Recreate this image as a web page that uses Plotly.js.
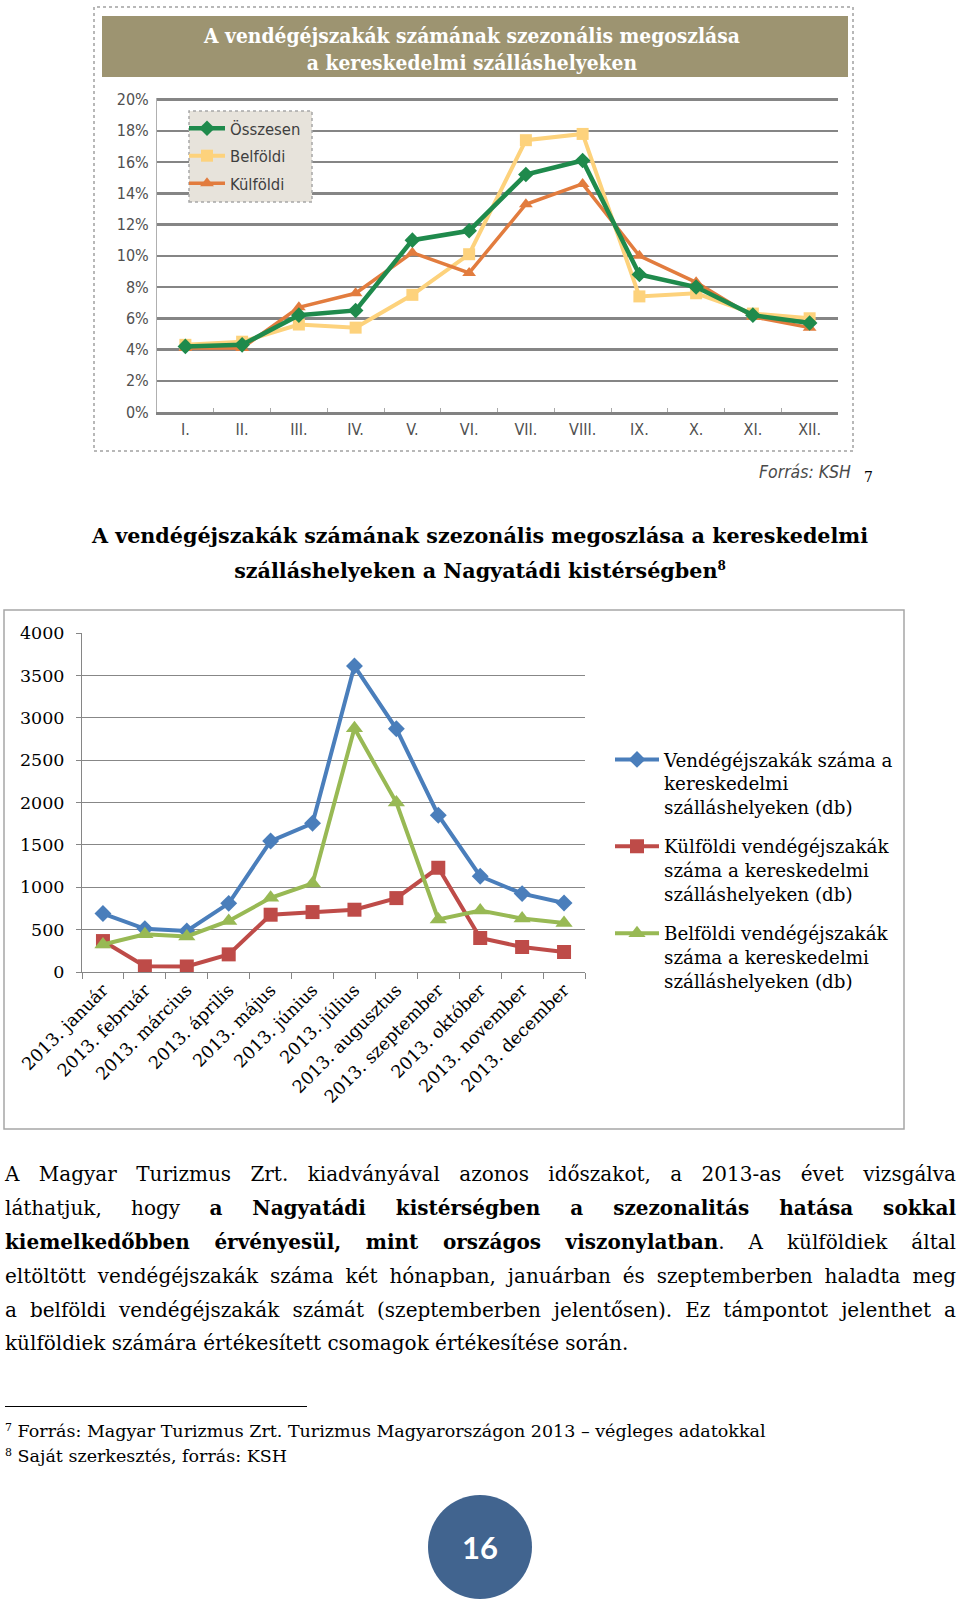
<!DOCTYPE html>
<html>
<head>
<meta charset="utf-8">
<script src="https://cdn.plot.ly/plotly-3.0.1.min.js"></script>
<style>
  html, body { margin:0; padding:0; background:#fff; }
  #page { position:relative; width:960px; height:1607px; overflow:hidden; background:#fff; }
  #top { position:absolute; left:0; top:0; width:960px; height:490px; }
  #bottom { position:absolute; left:0; top:600px; width:960px; height:540px; }
  .serif { font-family:"DejaVu Serif", "Liberation Serif", serif; color:#000; }
  #title2 { position:absolute; left:0; top:519px; width:960px; text-align:center;
            font-size:20.7px; font-weight:bold; line-height:35px; }
  #title2 sup { font-size:12px; vertical-align:8px; line-height:0; }
  .pl { position:absolute; left:5px; width:951px; font-size:20px; line-height:34px; height:34px;
        white-space:nowrap; text-align:justify; text-align-last:justify; }
  .pl.last { text-align:left; text-align-last:left; }
  #rule { position:absolute; left:5px; top:1406px; width:302px; height:0; border-top:1.5px solid #000; }
  .fn { position:absolute; left:5px; font-size:17.5px; line-height:24px; white-space:nowrap; }
  .fn sup { font-size:11px; vertical-align:6px; line-height:0; }
  #pnum { position:absolute; left:428px; top:1495px; width:104px; height:104px; border-radius:52px;
          background:#41648f; color:#fff; font-family:Lato, "Open Sans", sans-serif; font-weight:bold;
          font-size:31px; line-height:104px; text-align:center; }
</style>
</head>
<body>
<div id="page">
  <div id="top"></div>
  <div id="title2" class="serif">A vendégéjszakák számának szezonális megoszlása a kereskedelmi<br>szálláshelyeken a Nagyatádi kistérségben<sup>8</sup></div>
  <div id="bottom"></div>
  <div class="pl serif" style="top:1157px">A Magyar Turizmus Zrt. kiadványával azonos időszakot, a 2013-as évet vizsgálva</div>
  <div class="pl serif" style="top:1191px">láthatjuk, hogy <b>a Nagyatádi kistérségben a szezonalitás hatása sokkal</b></div>
  <div class="pl serif" style="top:1225px"><b>kiemelkedőbben érvényesül, mint országos viszonylatban</b>. A külföldiek által</div>
  <div class="pl serif" style="top:1259px">eltöltött vendégéjszakák száma két hónapban, januárban és szeptemberben haladta meg</div>
  <div class="pl serif" style="top:1293px">a belföldi vendégéjszakák számát (szeptemberben jelentősen). Ez támpontot jelenthet a</div>
  <div class="pl serif last" style="top:1326px">külföldiek számára értékesített csomagok értékesítése során.</div>
  <div id="rule"></div>
  <div class="fn serif" style="top:1419px"><sup>7</sup> Forrás: Magyar Turizmus Zrt. Turizmus Magyarországon 2013 – végleges adatokkal</div>
  <div class="fn serif" style="top:1444px"><sup>8</sup> Saját szerkesztés, forrás: KSH</div>
  <div id="pnum">16</div>
</div>
<script>
// ---------- Top chart data (national, %) ----------
const monthsRoman = ['I.','II.','III.','IV.','V.','VI.','VII.','VIII.','IX.','X.','XI.','XII.'];
const osszesen = [4.2, 4.3, 6.2, 6.5, 11.0, 11.6, 15.2, 16.1, 8.8, 8.0, 6.2, 5.7];
const belfoldi = [4.3, 4.5, 5.6, 5.4, 7.5, 10.1, 17.4, 17.8, 7.4, 7.6, 6.3, 6.0];
const kulfoldi = [4.1, 4.1, 6.7, 7.6, 10.2, 8.9, 13.3, 14.6, 10.0, 8.3, 6.1, 5.4];
const pctTicks = [0, 2, 4, 6, 8, 10, 12, 14, 16, 18, 20];

// ---------- Bottom chart data (Nagyatád, db) ----------
const honapok = ['2013. január','2013. február','2013. március','2013. április','2013. május','2013. június',
                 '2013. július','2013. augusztus','2013. szeptember','2013. október','2013. november','2013. december'];
const vendegejszakak = [690, 510, 485, 810, 1545, 1755, 3610, 2870, 1850, 1130, 925, 815];
const kulfoldiDb = [365, 67, 65, 208, 676, 707, 735, 872, 1230, 401, 295, 236];
const belfoldiDb = [325, 445, 420, 602, 875, 1045, 2875, 2000, 620, 725, 630, 579];
const dbTicks = [0, 500, 1000, 1500, 2000, 2500, 3000, 3500, 4000];

const narrow = '"Liberation Sans Narrow", "DejaVu Sans Condensed", "Roboto Condensed", sans-serif';
const serif = '"DejaVu Serif", "Liberation Serif", serif';

// ===== TOP =====
(function(){
  const W = 960, H = 490, ml = 157, mr = 960 - 838, mt = 98, mb = 490 - 412;
  const pw = W - ml - mr, ph = H - mt - mb;
  const X = px => (px - ml) / pw;
  const Y = py => (H - mb - py) / ph;

  const traces = [
    {name:'Belföldi', x: monthsRoman, y: belfoldi, type:'scatter', mode:'lines+markers',
     line:{color:'#fdd27c', width:4}, marker:{symbol:'square', size:12, color:'#fdd27c'},
     legendgroup:'b', legendrank:2, hoverinfo:'skip'},
    {name:'Külföldi', x: monthsRoman, y: kulfoldi, type:'scatter', mode:'lines+markers',
     line:{color:'#e27c3e', width:3.5}, marker:{symbol:'triangle-up', size:12, color:'#e27c3e'},
     legendgroup:'k', legendrank:3, hoverinfo:'skip'},
    {name:'Összesen', x: monthsRoman, y: osszesen, type:'scatter', mode:'lines+markers',
     line:{color:'#1f8a4c', width:4.5}, marker:{symbol:'diamond', size:12, color:'#1f8a4c'},
     legendgroup:'o', legendrank:1, hoverinfo:'skip'}
  ];
  const layout = {
    width: W, height: H, margin:{l:ml, r:mr, t:mt, b:mb, pad:0},
    paper_bgcolor:'rgba(0,0,0,0)', plot_bgcolor:'#fff',
    showlegend:true,
    legend:{x: X(184), y: Y(111), xanchor:'left', yanchor:'top', bgcolor:'rgba(0,0,0,0)',
            font:{family:narrow, size:16.5, color:'#3f3f3f'}, itemwidth:36, tracegroupgap:3,
            traceorder:'grouped'},
    xaxis:{type:'category', range:[-0.5, 11.5], showgrid:false, zeroline:false,
           showline:true, linecolor:'#828282', linewidth:2.5,
           ticks:'inside', tickson:'boundaries', ticklen:4, tickcolor:'#aaa',
           tickfont:{family:narrow, size:16, color:'#505050'}, ticklabelstandoff:1, fixedrange:true},
    yaxis:{range:[0, 20.1], tickvals:pctTicks, ticktext:pctTicks.map(v => v + '%'),
           showgrid:true, gridcolor:'#858585', gridwidth:2.5, zeroline:false,
           showline:true, linecolor:'#b0b0b0', linewidth:1, ticks:'',
           tickfont:{family:narrow, size:16, color:'#505050'}, ticklabelstandoff:4, fixedrange:true},
    shapes:[
      {type:'rect', xref:'paper', yref:'paper', x0:X(94), x1:X(853), y0:Y(451), y1:Y(7),
       line:{color:'#b8b8b8', width:2, dash:'dot'}, fillcolor:'rgba(0,0,0,0)', layer:'below'},
      {type:'rect', xref:'paper', yref:'paper', x0:X(102), x1:X(848), y0:Y(77), y1:Y(16),
       line:{width:0}, fillcolor:'#9d9471', layer:'below'},
      {type:'rect', xref:'paper', yref:'paper', x0:X(189), x1:X(312), y0:Y(202), y1:Y(111),
       line:{color:'#a8a8a8', width:1.5, dash:'dot'}, fillcolor:'#e7e3db', layer:'above'}
    ],
    annotations:[
      {xref:'paper', yref:'paper', x:X(471), y:Y(49), xanchor:'center', yanchor:'middle', showarrow:false,
       text:'<b>A vendégéjszakák számának szezonális megoszlása<br>a kereskedelmi szálláshelyeken</b>',
       font:{family:'"DejaVu Serif Condensed", "Liberation Serif", serif', size:20.8, color:'#fff'}},
      {xref:'paper', yref:'paper', x:X(853), y:Y(472), xanchor:'right', yanchor:'middle', showarrow:false,
       text:'<i>Forrás: KSH</i>', font:{family:narrow, size:17.5, color:'#4a4a4a'}},
      {xref:'paper', yref:'paper', x:X(862), y:Y(477), xanchor:'left', yanchor:'middle', showarrow:false,
       text:'7', font:{family:serif, size:14, color:'#000'}}
    ]
  };
  Plotly.newPlot('top', traces, layout, {staticPlot:true, displayModeBar:false});
})();

// ===== BOTTOM =====
(function(){
  const W = 960, H = 540, ml = 82, mr = 960 - 585, mt = 33, mb = 540 - 372;
  const pw = W - ml - mr, ph = H - mt - mb;
  const X = px => (px - ml) / pw;
  const Y = py => (H - mb - py) / ph;

  const traces = [
    {name:'Vendégéjszakák száma a<br>kereskedelmi<br>szálláshelyeken (db)', x: honapok, y: vendegejszakak,
     type:'scatter', mode:'lines+markers', line:{color:'#4a7ebb', width:4},
     marker:{symbol:'diamond', size:13, color:'#4a7ebb'}, legendgroup:'a', hoverinfo:'skip'},
    {name:'Külföldi vendégéjszakák<br>száma a kereskedelmi<br>szálláshelyeken (db)', x: honapok, y: kulfoldiDb,
     type:'scatter', mode:'lines+markers', line:{color:'#be4b48', width:4},
     marker:{symbol:'square', size:14, color:'#be4b48'}, legendgroup:'b', hoverinfo:'skip'},
    {name:'Belföldi vendégéjszakák<br>száma a kereskedelmi<br>szálláshelyeken (db)', x: honapok, y: belfoldiDb,
     type:'scatter', mode:'lines+markers', line:{color:'#98b954', width:4},
     marker:{symbol:'triangle-up', size:15, color:'#98b954'}, legendgroup:'c', hoverinfo:'skip'}
  ];
  const layout = {
    width: W, height: H, margin:{l:ml, r:mr, t:mt, b:mb, pad:0},
    paper_bgcolor:'rgba(0,0,0,0)', plot_bgcolor:'#fff',
    showlegend:true,
    legend:{x: X(610), y: Y(141), xanchor:'left', yanchor:'top', bgcolor:'rgba(0,0,0,0)',
            font:{family:serif, size:18.3, color:'#000'}, itemwidth:44, tracegroupgap:12.5,
            valign:'top', traceorder:'grouped'},
    xaxis:{type:'category', range:[-0.5, 11.5], showgrid:false, zeroline:false,
           showline:true, linecolor:'#868686', linewidth:1,
           ticks:'outside', tickson:'boundaries', ticklen:6, tickcolor:'#868686',
           tickangle:-45, tickfont:{family:serif, size:17.5, color:'#000'}, fixedrange:true},
    yaxis:{range:[0, 4000], tickvals:dbTicks, showgrid:true, gridcolor:'#878787', gridwidth:1,
           zeroline:false, showline:true, linecolor:'#868686', linewidth:1,
           ticks:'outside', ticklen:5, tickcolor:'#868686',
           tickfont:{family:serif, size:17.5, color:'#000'}, ticklabelstandoff:8, fixedrange:true},
    shapes:[
      {type:'rect', xref:'paper', yref:'paper', x0:X(4), x1:X(904), y0:Y(529), y1:Y(10),
       line:{color:'#a6a6a6', width:1.5}, fillcolor:'rgba(0,0,0,0)', layer:'below'}
    ]
  };
  Plotly.newPlot('bottom', traces, layout, {staticPlot:true, displayModeBar:false});
})();
</script>
</body>
</html>
